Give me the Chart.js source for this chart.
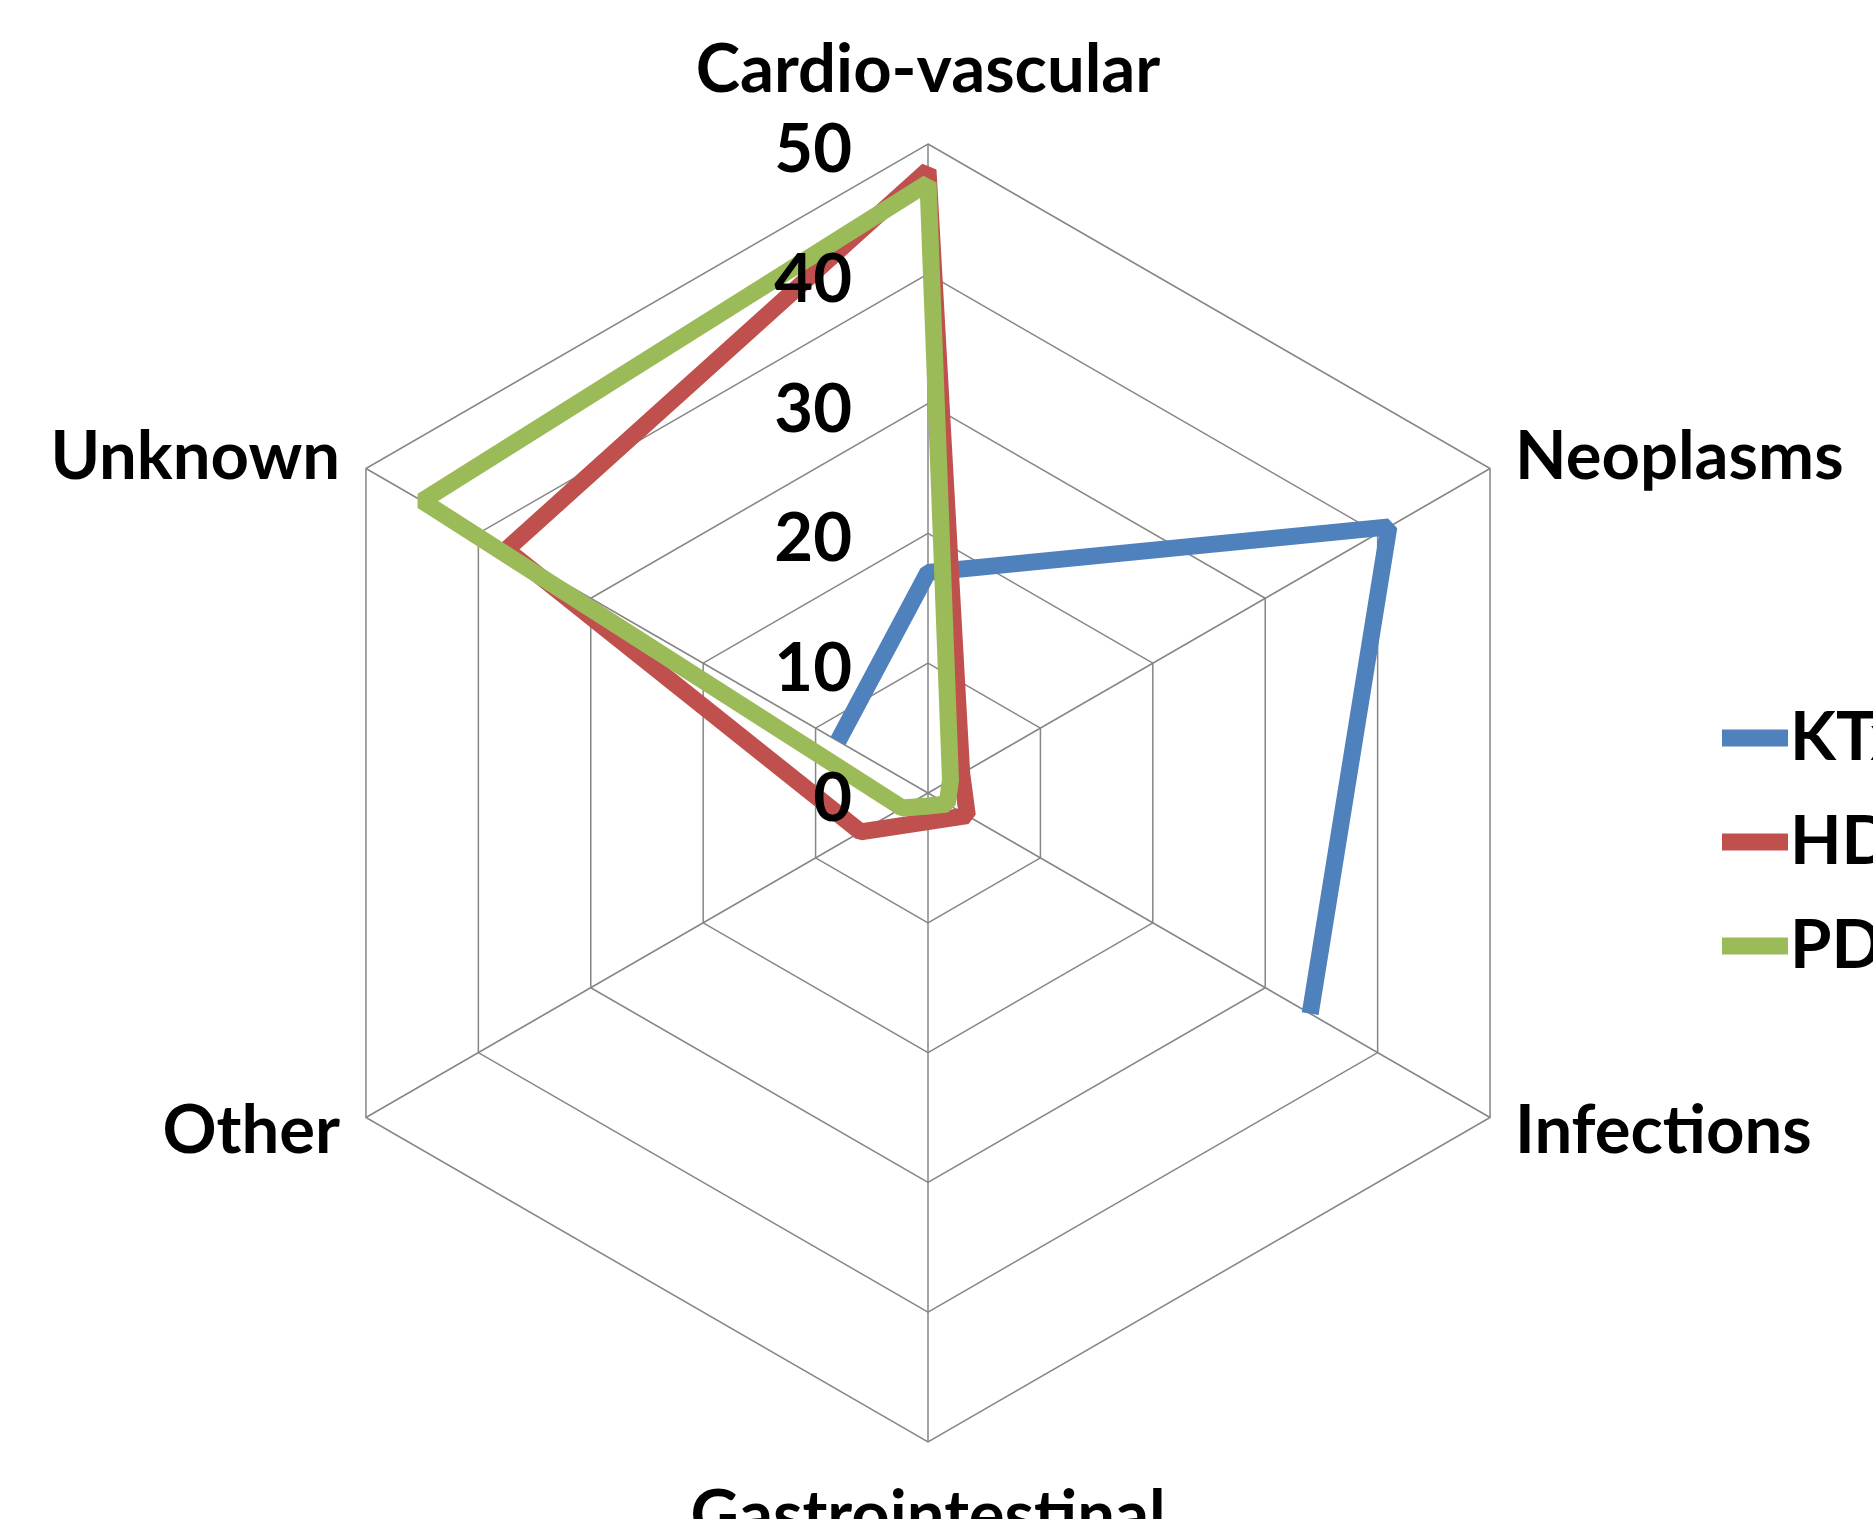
<!DOCTYPE html>
<html>
<head>
<meta charset="utf-8">
<title>Causes of death</title>
<script src="https://cdn.jsdelivr.net/npm/chart.js@4.4.0/dist/chart.umd.min.js"></script>
<style>
  html, body { margin: 0; padding: 0; background: #fff; overflow: hidden; }
  canvas { display: block; }
</style>
</head>
<body>
<canvas id="grafica" width="1873" height="1519"></canvas>
<script>
// datos
const categorias = ["Cardio-vascular", "Neoplasms", "Infections", "Gastrointestinal", "Other", "Unknown"];
const ktx = [17, 41, 34, null, null, 8];
const hd = [48, 3, 3.5, 2.2, 6, 37.5];
const pd = [47, 2, 1.7, 1, 2.3, 45];
const series = ["KTx", "HD", "PD"];
const valores = [ktx, hd, pd];
const colores = ["#4F81BD", "#C0504D", "#9BBB59"];
const ticksEje = [0, 10, 20, 30, 40, 50];

const fuente = "bold 67px Lato";
const gris = "#868686";

// etiquetas de ejes, ticks y leyenda encima de las lineas
const etiquetas = {
    id: "etiquetas",
    afterDatasetsDraw(chart) {
        const ctx = chart.ctx;
        const r = chart.scales.r;
        ctx.save();
        ctx.fillStyle = "#000";
        ctx.font = fuente;
        ctx.textBaseline = "alphabetic";

        chart.data.labels.forEach((texto, i) => {
            const p = r.getPointPosition(i, r.drawingArea);
            const dx = p.x - r.xCenter;
            const dy = p.y - r.yCenter;
            let x = p.x;
            let y = p.y;
            if (Math.abs(dx) < 1) {
                ctx.textAlign = "center";
                y = dy < 0 ? p.y - 52 : p.y + 96;
            } else {
                ctx.textAlign = dx > 0 ? "left" : "right";
                x = dx > 0 ? p.x + 25 : p.x - 26;
                y = dy < 0 ? p.y + 10 : p.y + 35;
            }
            ctx.fillText(texto, x, y);
        });

        ctx.textAlign = "right";
        r.ticks.forEach(t => {
            const y = r.yCenter - r.getDistanceFromCenterForValue(t.value);
            ctx.fillText(t.label, r.xCenter - 76, y + 28);
        });

        // leyenda
        ctx.textAlign = "left";
        chart.data.datasets.forEach((ds, i) => {
            const y = 738 + i * 104;
            ctx.strokeStyle = ds.borderColor;
            ctx.lineWidth = 17;
            ctx.beginPath();
            ctx.moveTo(1722, y);
            ctx.lineTo(1788, y);
            ctx.stroke();
            ctx.fillText(ds.label, 1790, y + 22);
        });
        ctx.restore();
    }
};

const ctx = document.getElementById("grafica").getContext("2d");
const config = {
    type: "radar",
    data: {
        labels: categorias,
        datasets: series.map((nombre, i) => ({
            label: nombre,
            data: valores[i],
            borderColor: colores[i],
            backgroundColor: colores[i],
            borderWidth: 17,
            borderJoinStyle: "bevel",
            fill: false,
            spanGaps: false,
            pointRadius: 0,
            pointHoverRadius: 0,
            order: 3 - i
        }))
    },
    options: {
        responsive: false,
        animation: false,
        layout: { padding: { left: 279, top: 144, right: 296, bottom: 77 } },
        plugins: {
            legend: { display: false },
            tooltip: { enabled: false }
        },
        elements: { line: { tension: 0 } },
        scales: {
            r: {
                min: ticksEje[0],
                max: ticksEje[ticksEje.length - 1],
                ticks: { display: false, stepSize: ticksEje[1] - ticksEje[0] },
                pointLabels: { display: false },
                grid: { color: gris, lineWidth: 1.5 },
                angleLines: { color: gris, lineWidth: 1.5 }
            }
        }
    },
    plugins: [etiquetas]
};
const myChart = new Chart(ctx, config);
</script>
</body>
</html>
